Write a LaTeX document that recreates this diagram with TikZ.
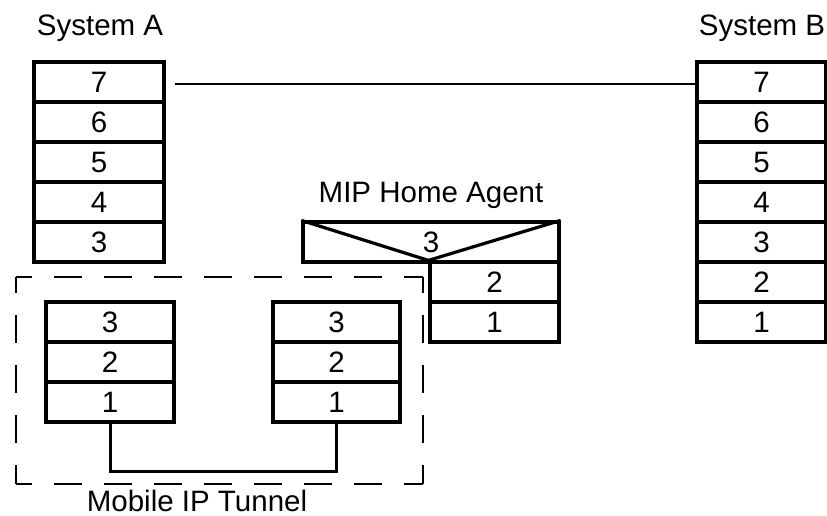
\documentclass[tikz,border=0pt]{standalone}
\usepackage{fontspec}
\setmainfont{Liberation Sans}
\begin{document}
\begin{tikzpicture}[x=1pt,y=-1pt,
  cell/.style={draw, line width=3.2pt, minimum width=#1, minimum height=40pt,
    inner sep=0pt, font=\fontsize{29.5}{34}\selectfont},
  cell/.default=130pt,
  lbl/.style={anchor=base, inner sep=0pt, font=\fontsize{29.5}{34}\selectfont},
  thin/.style={line width=2pt},
  tunnel/.style={line width=3pt},
  dashside/.style={line width=2pt, dash pattern=on 28pt off 22pt, dash phase=12pt}]
\useasboundingbox (0,0) rectangle (827,516);
% System A
\node[lbl] (labA) at (100,36) {System A};
\foreach \n/\y in {7/82,6/122,5/162,4/202,3/242}
  \node[cell=130pt] (a\n) at (99,\y) {\n};
% System B
\node[lbl] (labB) at (762,36) {System B};
\foreach \n/\y in {7/82,6/122,5/162,4/202,3/242,2/282,1/322}
  \node[cell=129pt] (b\n) at (761.5,\y) {\n};
% MIP Home Agent
\node[lbl] (labM) at (431,202) {MIP Home Agent};
\node[cell=256pt] (m3) at (431,242) {3};
\node[cell=129pt] (m2) at (494.5,282) {2};
\node[cell=129pt] (m1) at (494.5,322) {1};
\draw[line width=3.2pt, line join=miter] (m3.north west) -- (m2.north west) -- (m3.north east);
% Tunnel stacks
\foreach \n/\y in {3/322,2/362,1/402}{
  \node[cell=128pt] (l\n) at (110,\y) {\n};
  \node[cell=127pt] (r\n) at (336.5,\y) {\n};
}
% link 7 - 7
\draw[thin] ([xshift=9pt,yshift=-2pt]a7.east) -- ([yshift=-2pt]b7.west);
% tunnel
\draw[tunnel] (l1.south) -- ++(0,48) -| (r1.south);
% dashed box
\coordinate (tl) at (16,277);
\coordinate (tr) at (423,277);
\coordinate (bl) at (16,484);
\coordinate (br) at (423,484);
\draw[dashside] (tl) -- (tr);
\draw[dashside] (tl) -- (bl);
\draw[dashside] (bl) -- (br);
\draw[dashside] (tr) -- (br);
\node[lbl] (labT) at (197,511) {Mobile IP Tunnel};
\end{tikzpicture}
\end{document}
